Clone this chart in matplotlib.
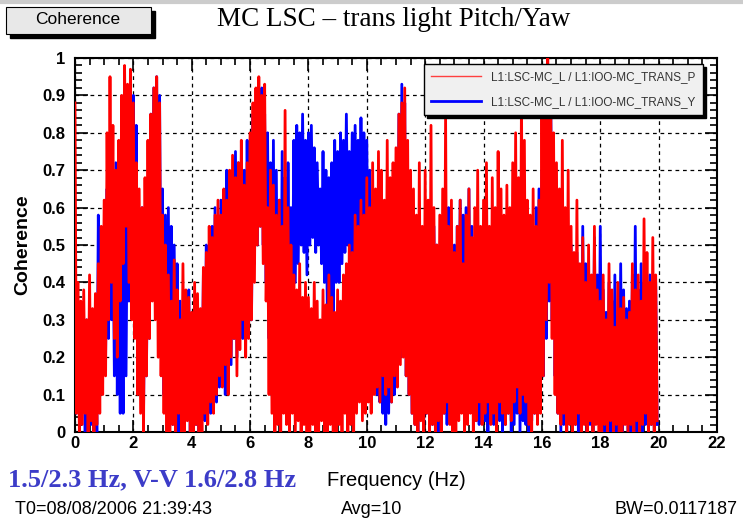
import numpy as np
import matplotlib
matplotlib.use("Agg")
import matplotlib.pyplot as plt
from matplotlib.patches import Rectangle
from matplotlib.ticker import MultipleLocator

# coherence envelopes, one value every 0.1 Hz from 0 to 19.9 Hz
# (one row per Hz); *_hi are the local peaks, *_lo the dips in between
FREQ_STEP = 0.1

pitch_hi = [
    0.88, 0.40, 0.35, 0.38, 0.30, 0.42, 0.33, 0.37, 0.45, 0.55,
    0.62, 0.80, 0.95, 0.82, 0.70, 0.78, 0.90, 0.98, 0.93, 0.97,
    0.88, 0.72, 0.65, 0.60, 0.68, 0.78, 0.85, 0.92, 0.95, 0.88,
    0.58, 0.50, 0.42, 0.35, 0.46, 0.38, 0.30, 0.45, 0.38, 0.36,
    0.32, 0.40, 0.37, 0.33, 0.44, 0.48, 0.55, 0.52, 0.58, 0.62,
    0.58, 0.65, 0.62, 0.70, 0.74, 0.68, 0.72, 0.78, 0.66, 0.72,
    0.80, 0.88, 0.92, 0.95, 0.90, 0.93, 0.60, 0.70, 0.66, 0.58,
    0.62, 0.55, 0.86, 0.60, 0.50, 0.42, 0.38, 0.45, 0.36, 0.40,
    0.36, 0.33, 0.40, 0.35, 0.30, 0.38, 0.34, 0.42, 0.36, 0.32,
    0.38, 0.35, 0.42, 0.45, 0.50, 0.48, 0.58, 0.55, 0.62, 0.58,
    0.68, 0.60, 0.72, 0.65, 0.75, 0.70, 0.62, 0.78, 0.68, 0.72,
    0.76, 0.85, 0.88, 0.92, 0.78, 0.70, 0.65, 0.58, 0.72, 0.55,
    0.70, 0.62, 0.82, 0.60, 0.50, 0.58, 0.65, 0.85, 0.55, 0.62,
    0.48, 0.55, 0.62, 0.45, 0.58, 0.65, 0.52, 0.60, 0.70, 0.55,
    0.62, 0.72, 0.55, 0.68, 0.60, 0.75, 0.65, 0.58, 0.66, 0.60,
    0.72, 0.80, 0.68, 0.90, 0.78, 0.62, 0.58, 0.65, 0.55, 0.62,
    0.88, 0.95, 1.00, 0.92, 0.80, 0.72, 0.65, 0.78, 0.60, 0.70,
    0.55, 0.48, 0.62, 0.45, 0.52, 0.40, 0.50, 0.42, 0.55, 0.38,
    0.35, 0.42, 0.30, 0.45, 0.38, 0.28, 0.40, 0.33, 0.36, 0.30,
    0.32, 0.45, 0.38, 0.42, 0.35, 0.57, 0.48, 0.40, 0.52, 0.42,
]
pitch_lo = [
    0.05, 0.00, 0.02, 0.05, 0.00, 0.03, 0.00, 0.02, 0.05, 0.10,
    0.15, 0.30, 0.40, 0.25, 0.20, 0.35, 0.45, 0.55, 0.40, 0.30,
    0.25, 0.10, 0.05, 0.00, 0.15, 0.25, 0.35, 0.30, 0.20, 0.15,
    0.05, 0.00, 0.00, 0.02, 0.00, 0.05, 0.00, 0.00, 0.03, 0.00,
    0.00, 0.02, 0.00, 0.00, 0.05, 0.02, 0.08, 0.05, 0.10, 0.15,
    0.12, 0.18, 0.10, 0.20, 0.25, 0.15, 0.22, 0.30, 0.20, 0.25,
    0.30, 0.40, 0.50, 0.55, 0.45, 0.35, 0.10, 0.05, 0.00, 0.02,
    0.00, 0.05, 0.02, 0.00, 0.05, 0.00, 0.03, 0.00, 0.02, 0.00,
    0.00, 0.02, 0.00, 0.00, 0.03, 0.00, 0.00, 0.02, 0.00, 0.00,
    0.02, 0.00, 0.05, 0.00, 0.02, 0.00, 0.05, 0.08, 0.03, 0.05,
    0.08, 0.05, 0.10, 0.12, 0.08, 0.15, 0.10, 0.12, 0.08, 0.15,
    0.12, 0.18, 0.20, 0.15, 0.10, 0.05, 0.02, 0.00, 0.03, 0.00,
    0.05, 0.00, 0.02, 0.00, 0.03, 0.00, 0.05, 0.08, 0.02, 0.00,
    0.00, 0.03, 0.05, 0.00, 0.02, 0.05, 0.00, 0.03, 0.08, 0.02,
    0.05, 0.08, 0.02, 0.05, 0.00, 0.08, 0.05, 0.02, 0.05, 0.03,
    0.08, 0.12, 0.05, 0.10, 0.08, 0.02, 0.00, 0.05, 0.02, 0.05,
    0.15, 0.30, 0.40, 0.25, 0.10, 0.05, 0.02, 0.05, 0.00, 0.02,
    0.00, 0.02, 0.05, 0.00, 0.02, 0.00, 0.03, 0.00, 0.02, 0.00,
    0.00, 0.02, 0.00, 0.03, 0.00, 0.02, 0.00, 0.00, 0.02, 0.00,
    0.02, 0.00, 0.03, 0.00, 0.02, 0.05, 0.00, 0.02, 0.00, 0.03,
]
yaw_hi = [
    0.40, 0.35, 0.28, 0.22, 0.30, 0.25, 0.20, 0.25, 0.58, 0.45,
    0.55, 0.65, 0.80, 0.60, 0.72, 0.55, 0.62, 0.75, 0.70, 0.85,
    0.90, 0.82, 0.55, 0.60, 0.50, 0.65, 0.85, 0.92, 0.95, 0.90,
    0.65, 0.58, 0.60, 0.55, 0.50, 0.45, 0.35, 0.30, 0.25, 0.38,
    0.28, 0.35, 0.25, 0.30, 0.42, 0.50, 0.45, 0.55, 0.60, 0.52,
    0.62, 0.58, 0.70, 0.65, 0.68, 0.75, 0.72, 0.65, 0.70, 0.78,
    0.72, 0.85, 0.88, 0.90, 0.92, 0.85, 0.80, 0.72, 0.78, 0.70,
    0.62, 0.75, 0.68, 0.72, 0.60, 0.78, 0.82, 0.80, 0.85, 0.78,
    0.80, 0.82, 0.76, 0.72, 0.65, 0.75, 0.70, 0.68, 0.72, 0.78,
    0.75, 0.80, 0.78, 0.85, 0.75, 0.80, 0.82, 0.78, 0.84, 0.80,
    0.78, 0.70, 0.62, 0.55, 0.65, 0.58, 0.50, 0.60, 0.55, 0.65,
    0.72, 0.85, 0.93, 0.88, 0.70, 0.60, 0.55, 0.50, 0.58, 0.45,
    0.55, 0.60, 0.48, 0.55, 0.50, 0.45, 0.52, 0.48, 0.60, 0.55,
    0.50, 0.55, 0.62, 0.58, 0.60, 0.65, 0.55, 0.50, 0.45, 0.52,
    0.48, 0.45, 0.52, 0.40, 0.55, 0.50, 0.42, 0.48, 0.55, 0.45,
    0.50, 0.55, 0.48, 0.52, 0.45, 0.40, 0.50, 0.45, 0.60, 0.65,
    0.70, 0.80, 0.92, 0.95, 0.75, 0.55, 0.48, 0.52, 0.45, 0.55,
    0.50, 0.42, 0.48, 0.38, 0.55, 0.45, 0.40, 0.35, 0.52, 0.42,
    0.55, 0.38, 0.32, 0.40, 0.35, 0.42, 0.30, 0.45, 0.38, 0.33,
    0.35, 0.42, 0.55, 0.38, 0.45, 0.40, 0.35, 0.42, 0.38, 0.40,
]
yaw_lo = [
    0.05, 0.10, 0.08, 0.00, 0.05, 0.02, 0.00, 0.00, 0.10, 0.15,
    0.20, 0.25, 0.30, 0.15, 0.10, 0.05, 0.05, 0.15, 0.35, 0.45,
    0.40, 0.20, 0.10, 0.05, 0.15, 0.25, 0.40, 0.35, 0.30, 0.20,
    0.10, 0.05, 0.08, 0.02, 0.05, 0.00, 0.02, 0.00, 0.05, 0.00,
    0.00, 0.02, 0.00, 0.05, 0.03, 0.08, 0.05, 0.10, 0.08, 0.12,
    0.15, 0.10, 0.20, 0.18, 0.25, 0.20, 0.28, 0.25, 0.30, 0.35,
    0.30, 0.45, 0.50, 0.55, 0.50, 0.40, 0.25, 0.10, 0.05, 0.10,
    0.15, 0.20, 0.10, 0.25, 0.30, 0.40, 0.45, 0.50, 0.48, 0.42,
    0.50, 0.52, 0.48, 0.50, 0.45, 0.40, 0.30, 0.25, 0.30, 0.40,
    0.40, 0.45, 0.48, 0.50, 0.42, 0.45, 0.48, 0.40, 0.45, 0.38,
    0.35, 0.25, 0.15, 0.10, 0.08, 0.05, 0.02, 0.05, 0.08, 0.10,
    0.15, 0.20, 0.25, 0.15, 0.10, 0.05, 0.02, 0.00, 0.05, 0.02,
    0.05, 0.08, 0.02, 0.05, 0.00, 0.03, 0.05, 0.02, 0.08, 0.05,
    0.05, 0.10, 0.15, 0.12, 0.08, 0.10, 0.05, 0.03, 0.02, 0.05,
    0.03, 0.00, 0.05, 0.02, 0.08, 0.03, 0.00, 0.02, 0.05, 0.00,
    0.02, 0.05, 0.00, 0.03, 0.02, 0.00, 0.03, 0.05, 0.08, 0.10,
    0.15, 0.25, 0.35, 0.30, 0.15, 0.05, 0.00, 0.02, 0.00, 0.03,
    0.00, 0.02, 0.00, 0.03, 0.05, 0.00, 0.02, 0.00, 0.05, 0.02,
    0.03, 0.00, 0.02, 0.00, 0.03, 0.00, 0.02, 0.00, 0.03, 0.00,
    0.00, 0.02, 0.00, 0.03, 0.00, 0.02, 0.00, 0.02, 0.00, 0.02,
]

PITCH_LABEL = "L1:LSC-MC_L / L1:IOO-MC_TRANS_P"
YAW_LABEL = "L1:LSC-MC_L / L1:IOO-MC_TRANS_Y"


# peaks sit on the grid, dips half a step later -> one zig-zag trace
def zigzag(hi, lo):
    n = len(hi)
    f = np.empty(2 * n)
    v = np.empty(2 * n)
    f[0::2] = np.arange(n) * FREQ_STEP
    f[1::2] = np.arange(n) * FREQ_STEP + FREQ_STEP / 2
    v[0::2] = hi
    v[1::2] = lo
    return f, v


fig = plt.figure(figsize=(7.43, 5.24), dpi=100)
fig.patch.set_facecolor("white")
ax = fig.add_axes([0.1009, 0.1756, 0.8641, 0.7137])

f_y, c_y = zigzag(yaw_hi, yaw_lo)
f_p, c_p = zigzag(pitch_hi, pitch_lo)
ax.plot(f_y, c_y, color="#0000ff", lw=2.0, zorder=3)
ax.plot(f_p, c_p, color="#ff0000", lw=2.0, zorder=4)

ax.set_xlim(0, 22)
ax.set_ylim(0, 1)
ax.xaxis.set_major_locator(MultipleLocator(2))
ax.xaxis.set_minor_locator(MultipleLocator(0.5))
ax.yaxis.set_major_locator(MultipleLocator(0.1))
ax.yaxis.set_minor_locator(MultipleLocator(0.02))
ax.set_yticks(np.arange(0, 1.01, 0.1))
ax.set_yticklabels(["0", "0.1", "0.2", "0.3", "0.4", "0.5", "0.6", "0.7", "0.8", "0.9", "1"])
ax.tick_params(which="both", direction="in", top=True, right=True, width=1.2)
ax.tick_params(which="major", length=9, labelsize=12, pad=3)
ax.tick_params(axis="y", which="major", pad=7)
ax.tick_params(which="minor", length=5)
for lab in ax.get_xticklabels() + ax.get_yticklabels():
    lab.set_fontweight("bold")
    lab.set_family("Liberation Sans")
ax.grid(True, which="major", color="black", linestyle=(0, (3, 3)), lw=0.9)
for sp in ax.spines.values():
    sp.set_linewidth(1.5)

ax.set_ylabel("Coherence", fontsize=14, fontweight="bold", family="Liberation Sans", labelpad=8)

# legend with black drop shadow
h_p, = ax.plot([], [], color="#ff4040", lw=1.0)
h_y, = ax.plot([], [], color="#0000ff", lw=2.0)
leg = ax.legend([h_p, h_y], [PITCH_LABEL, YAW_LABEL], loc="upper right",
                bbox_to_anchor=(0.978, 0.984), borderaxespad=0, fancybox=False,
                framealpha=1, facecolor="#f0f0f0", edgecolor="black",
                prop={"family": "Liberation Sans", "size": 8.5},
                handlelength=4.2, labelspacing=1.1, borderpad=0.6,
                handletextpad=0.9,
                shadow={"color": "black", "alpha": 1})
leg.set_zorder(10)
leg.get_frame().set_linewidth(1.0)
for t in leg.get_texts():
    t.set_color("#333333")

# header
fig.text(0.530, 0.962, "MC LSC \u2013 trans light Pitch/Yaw", ha="center", va="center",
         fontsize=19.5, family="Liberation Serif")
fig.patches.append(Rectangle((10 / 743, 1 - 38 / 524), 145 / 743, 27 / 524,
                             transform=fig.transFigure, facecolor="black",
                             edgecolor="black", zorder=1))
fig.patches.append(Rectangle((6 / 743, 1 - 34 / 524), 145 / 743, 27 / 524,
                             transform=fig.transFigure, facecolor="#e8e8e8",
                             edgecolor="black", lw=0.8, zorder=2))
fig.text(78 / 743, 1 - 20 / 524, "Coherence", ha="center", va="center",
         fontsize=12.5, family="Liberation Sans", zorder=3)
fig.add_artist(plt.Line2D([0, 1], [0.996, 0.996], transform=fig.transFigure,
                          color="#cccccc", lw=3))

# footer
fig.text(396 / 743, 1 - 481 / 524, "Frequency (Hz)", ha="center", va="center",
         fontsize=14.5, family="Liberation Sans")
fig.text(8 / 743, 1 - 480 / 524, "1.5/2.3 Hz, V-V 1.6/2.8 Hz", ha="left", va="center",
         fontsize=19, family="Liberation Serif", fontweight="bold", color="#3c3cc8")
fig.text(15 / 743, 1 - 509 / 524, "T0=08/08/2006 21:39:43", ha="left", va="center",
         fontsize=13, family="Liberation Sans")
fig.text(372 / 743, 1 - 509 / 524, "Avg=10", ha="center", va="center",
         fontsize=13, family="Liberation Sans")
fig.text(738 / 743, 1 - 509 / 524, "BW=0.0117187", ha="right", va="center",
         fontsize=13, family="Liberation Sans")

fig.savefig("out.png", dpi=100)
